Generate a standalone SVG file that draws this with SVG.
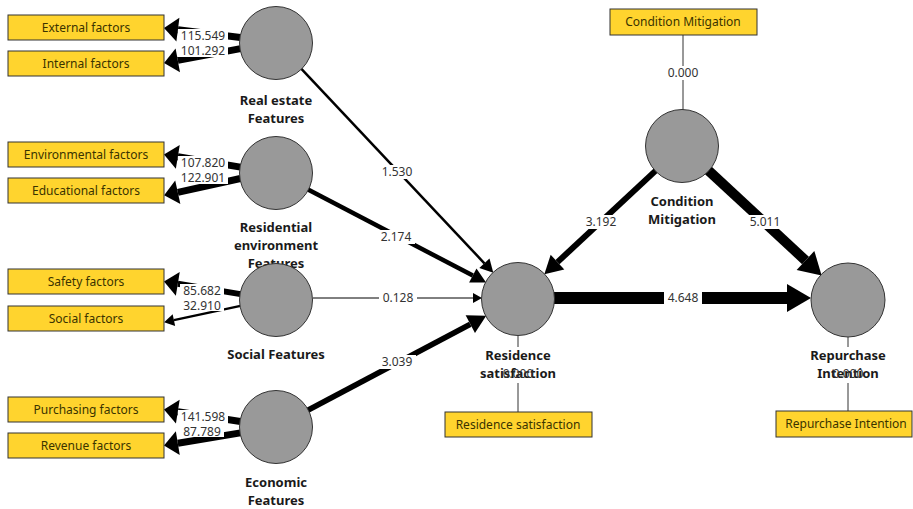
<svg xmlns="http://www.w3.org/2000/svg" width="913" height="509" viewBox="0 0 913 509">
<style>
.box{fill:#FFD42E;stroke:#333;stroke-width:1}
.bt{font-family:"Noto Sans","Liberation Sans",sans-serif;font-size:12px;fill:#3a3300;text-anchor:middle}
.lv{fill:#999;stroke:#333;stroke-width:1}
.nl{font-family:"Noto Sans","Liberation Sans",sans-serif;font-size:13px;font-weight:bold;fill:#1a1a1a;text-anchor:middle}
.num{font-family:"Noto Sans","Liberation Sans",sans-serif;font-size:12px;fill:#333;text-anchor:middle}
.bg{fill:#fff}
.c{stroke:#000;fill:none}
.thin{stroke:#333;stroke-width:1;fill:none}
</style>
<defs>
<marker id="a1" markerUnits="userSpaceOnUse" markerWidth="9" markerHeight="10" refX="0" refY="5" orient="auto" overflow="visible"><path d="M0,0 L9,5 L0,10 z"/></marker>
<marker id="a2" markerUnits="userSpaceOnUse" markerWidth="13" markerHeight="14" refX="0" refY="7" orient="auto" overflow="visible"><path d="M0,0 L13,7 L0,14 z"/></marker>
<marker id="a4" markerUnits="userSpaceOnUse" markerWidth="15" markerHeight="16" refX="0" refY="8" orient="auto" overflow="visible"><path d="M0,0 L15,8 L0,16 z"/></marker>
<marker id="a6" markerUnits="userSpaceOnUse" markerWidth="18" markerHeight="20" refX="0" refY="10" orient="auto" overflow="visible"><path d="M0,0 L18,10 L0,20 z"/></marker>
<marker id="a10" markerUnits="userSpaceOnUse" markerWidth="22" markerHeight="26" refX="0" refY="13" orient="auto" overflow="visible"><path d="M0,0 L22,13 L0,26 z"/></marker>
<marker id="a12" markerUnits="userSpaceOnUse" markerWidth="24" markerHeight="28" refX="0" refY="14" orient="auto" overflow="visible"><path d="M0,0 L24,14 L0,28 z"/></marker>
<marker id="ao" markerUnits="userSpaceOnUse" markerWidth="14" markerHeight="24" refX="0" refY="12" orient="auto" overflow="visible"><path d="M0,0 L14,12 L0,24 z"/></marker>
<marker id="aos" markerUnits="userSpaceOnUse" markerWidth="10" markerHeight="12" refX="0" refY="6" orient="auto" overflow="visible"><path d="M0,0 L10,6 L0,12 z"/></marker>
</defs>
<rect width="913" height="509" fill="#fff"/>

<g id="connectors">
<line class="c" x1="240.3" y1="37.5" x2="177.9" y2="29.7" stroke-width="7" marker-end="url(#ao)"/>
<line class="c" x1="240.6" y1="48.6" x2="177.8" y2="60.4" stroke-width="7" marker-end="url(#ao)"/>
<line class="c" x1="240.5" y1="167.1" x2="177.8" y2="156.8" stroke-width="7" marker-end="url(#ao)"/>
<line class="c" x1="240.4" y1="178.5" x2="177.8" y2="192.3" stroke-width="7" marker-end="url(#ao)"/>
<line class="c" x1="240.5" y1="294.1" x2="177.8" y2="283.8" stroke-width="6" marker-end="url(#ao)"/>
<line class="c" x1="240.5" y1="305.9" x2="173.9" y2="320.1" stroke-width="2.5" marker-end="url(#aos)"/>
<line class="c" x1="240.4" y1="421.5" x2="177.8" y2="411.7" stroke-width="7" marker-end="url(#ao)"/>
<line class="c" x1="240.5" y1="432.9" x2="177.8" y2="443.2" stroke-width="7" marker-end="url(#ao)"/>
<line class="thin" x1="683" y1="35" x2="683" y2="110"/>
<line class="thin" x1="518" y1="336" x2="518" y2="347"/>
<line class="thin" x1="518" y1="383" x2="518" y2="412"/>
<line class="thin" x1="848" y1="337" x2="848" y2="347"/>
<line class="thin" x1="848" y1="383" x2="848" y2="411"/>
<line class="c" x1="300.7" y1="68.2" x2="484.4" y2="263.3" stroke-width="2.5" marker-end="url(#a2)"/>
<line class="c" x1="308" y1="189.6" x2="472.8" y2="275.5" stroke-width="4.5" marker-end="url(#a4)"/>
<line class="c" x1="313" y1="298" x2="473" y2="298" stroke-width="1" marker-end="url(#a1)"/>
<line class="c" x1="307.8" y1="410.2" x2="470.3" y2="324.2" stroke-width="5.5" marker-end="url(#a6)"/>
<line class="c" x1="655.7" y1="170.6" x2="557.5" y2="262.1" stroke-width="6" marker-end="url(#a6)"/>
<line class="c" x1="708.4" y1="170.5" x2="805.5" y2="260.5" stroke-width="10" marker-end="url(#a10)"/>
<line class="c" x1="554" y1="298" x2="787" y2="298" stroke-width="12" marker-end="url(#a12)"/>
</g>

<g id="labels">
<rect class="bg" x="178" y="29" width="50" height="14"/><text class="num" x="203" y="40">115.549</text>
<rect class="bg" x="178" y="43" width="50" height="14"/><text class="num" x="203" y="55">101.292</text>
<rect class="bg" x="178" y="156" width="50" height="14"/><text class="num" x="203" y="167">107.820</text>
<rect class="bg" x="178" y="170" width="50" height="14"/><text class="num" x="203" y="182">122.901</text>
<rect class="bg" x="180" y="284" width="44" height="13"/><text class="num" x="202" y="295">85.682</text>
<rect class="bg" x="180" y="298" width="44" height="13"/><text class="num" x="202" y="310">32.910</text>
<rect class="bg" x="178" y="410" width="50" height="14"/><text class="num" x="203" y="421">141.598</text>
<rect class="bg" x="180" y="424" width="44" height="13"/><text class="num" x="202" y="436">87.789</text>
<rect class="bg" x="378" y="165" width="38" height="14"/><text class="num" x="397" y="176">1.530</text>
<rect class="bg" x="377" y="230" width="38" height="14"/><text class="num" x="396" y="241">2.174</text>
<rect class="bg" x="379" y="291" width="38" height="14"/><text class="num" x="398" y="302">0.128</text>
<rect class="bg" x="378" y="355" width="38" height="14"/><text class="num" x="397" y="366">3.039</text>
<rect class="bg" x="582" y="215" width="38" height="14"/><text class="num" x="601" y="226">3.192</text>
<rect class="bg" x="746" y="215" width="38" height="14"/><text class="num" x="765" y="226">5.011</text>
<rect class="bg" x="664" y="291" width="38" height="14"/><text class="num" x="683" y="302">4.648</text>
<rect class="bg" x="664" y="66" width="38" height="14"/><text class="num" x="683" y="77">0.000</text>
</g>

<g id="ind-external"><rect class="box" x="8" y="15" width="156" height="25"/><text class="bt" x="86" y="32">External factors</text></g>
<g id="ind-internal"><rect class="box" x="8" y="51" width="156" height="25"/><text class="bt" x="86" y="68">Internal factors</text></g>
<g id="ind-environmental"><rect class="box" x="8" y="142" width="156" height="25"/><text class="bt" x="86" y="159">Environmental factors</text></g>
<g id="ind-educational"><rect class="box" x="8" y="178" width="156" height="25"/><text class="bt" x="86" y="195">Educational factors</text></g>
<g id="ind-safety"><rect class="box" x="8" y="269" width="156" height="25"/><text class="bt" x="86" y="286">Safety factors</text></g>
<g id="ind-social"><rect class="box" x="8" y="306" width="156" height="25"/><text class="bt" x="86" y="323">Social factors</text></g>
<g id="ind-purchasing"><rect class="box" x="8" y="397" width="156" height="25"/><text class="bt" x="86" y="414">Purchasing factors</text></g>
<g id="ind-revenue"><rect class="box" x="8" y="433" width="156" height="25"/><text class="bt" x="86" y="450">Revenue factors</text></g>
<g id="ind-condition"><rect class="box" x="610" y="9" width="147" height="26"/><text class="bt" x="683" y="26">Condition Mitigation</text></g>
<g id="ind-residence"><rect class="box" x="445" y="412" width="147" height="25"/><text class="bt" x="518" y="429">Residence satisfaction</text></g>
<g id="ind-repurchase"><rect class="box" x="776" y="411" width="136" height="26"/><text class="bt" x="846" y="428">Repurchase Intention</text></g>

<g id="lv-realestate"><text class="nl" x="276" y="105">Real estate</text><text class="nl" x="276" y="123">Features</text><circle class="lv" cx="276" cy="43" r="36.5"/></g>
<g id="lv-residential"><text class="nl" x="276" y="232">Residential</text><text class="nl" x="276" y="250">environment</text><text class="nl" x="276" y="268">Features</text><circle class="lv" cx="276" cy="173" r="36.5"/></g>
<g id="lv-social"><circle class="lv" cx="276" cy="300" r="36.5"/><text class="nl" x="276" y="359">Social Features</text></g>
<g id="lv-economic"><circle class="lv" cx="276" cy="427" r="36.5"/><text class="nl" x="276" y="487">Economic</text><text class="nl" x="276" y="505">Features</text></g>
<g id="lv-condition"><circle class="lv" cx="682" cy="146" r="36.5"/><text class="nl" x="682" y="206">Condition</text><text class="nl" x="682" y="224">Mitigation</text></g>
<g id="lv-residence"><circle class="lv" cx="518" cy="299" r="36.5"/><text class="nl" x="518" y="360">Residence</text><text class="nl" x="518" y="378">satisfaction</text><text class="num" x="518" y="378">0.000</text></g>
<g id="lv-repurchase"><circle class="lv" cx="848" cy="300" r="37"/><text class="nl" x="848" y="360">Repurchase</text><text class="nl" x="848" y="378">Intention</text><text class="num" x="848" y="378">0.000</text></g>
</svg>
